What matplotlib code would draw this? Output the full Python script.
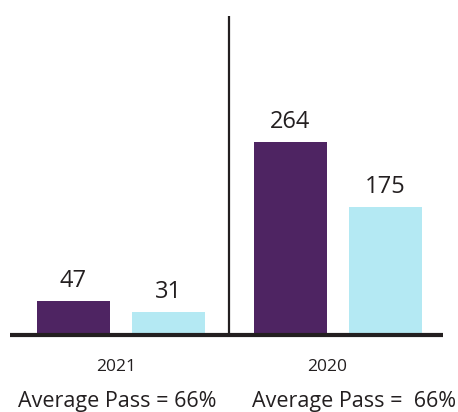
import matplotlib
matplotlib.use("Agg")
import matplotlib.pyplot as plt
import matplotlib.transforms as mtransforms

# Data
years = ["2021", "2020"]
series_a = [47, 264]   # dark purple bars
series_b = [31, 175]   # light cyan bars
averages = ["Average Pass = 66%", "Average Pass =  66%"]

purple = "#4E2462"
cyan = "#B4E9F3"
ink = "#231F20"

plt.rcParams["font.family"] = ["Open Sans", "DejaVu Sans"]

fig = plt.figure(figsize=(4.58, 4.12), dpi=100)
ax = fig.add_axes([10 / 458, 77 / 412, 433 / 458, 319 / 412])

x = list(range(len(years)))
offset = 0.219
width = 0.336

bars_a = ax.bar([g - offset for g in x], series_a, width=width, color=purple, zorder=2)
bars_b = ax.bar([g + offset for g in x], series_b, width=width, color=cyan, zorder=2)

for bars, vals in ((bars_a, series_a), (bars_b, series_b)):
    for b, v in zip(bars, vals):
        ax.annotate(str(v), (b.get_x() + b.get_width() / 2, v),
                    xytext=(0, 10), textcoords="offset points",
                    ha="center", va="baseline", fontsize=17, color=ink)

# divider between the two years
ax.axvline(0.5, color=ink, lw=1.6, zorder=3)

ax.set_xlim(-0.5115, 1.484)
ax.set_ylim(0, 436)

for s in ("top", "right", "left"):
    ax.spines[s].set_visible(False)
ax.spines["bottom"].set_linewidth(3.0)
ax.spines["bottom"].set_color(ink)
ax.spines["bottom"].set_capstyle("butt")
ax.spines["bottom"].set_zorder(4)
ax.set_yticks([])
ax.set_xticks([])

trans = mtransforms.blended_transform_factory(ax.transData, fig.transFigure)
year_x = [-0.023, 0.95]
avg_x = [-0.018, 1.074]
for yx, ax_x, yr, avg in zip(year_x, avg_x, years, averages):
    ax.text(yx, 1 - 367 / 412, yr, transform=trans, ha="center", va="center",
            fontsize=12.5, color=ink)
    ax.text(ax_x, 1 - 402 / 412, avg, transform=trans, ha="center", va="center",
            fontsize=15.5, color=ink)

fig.savefig("out.png", dpi=100, facecolor="white")
